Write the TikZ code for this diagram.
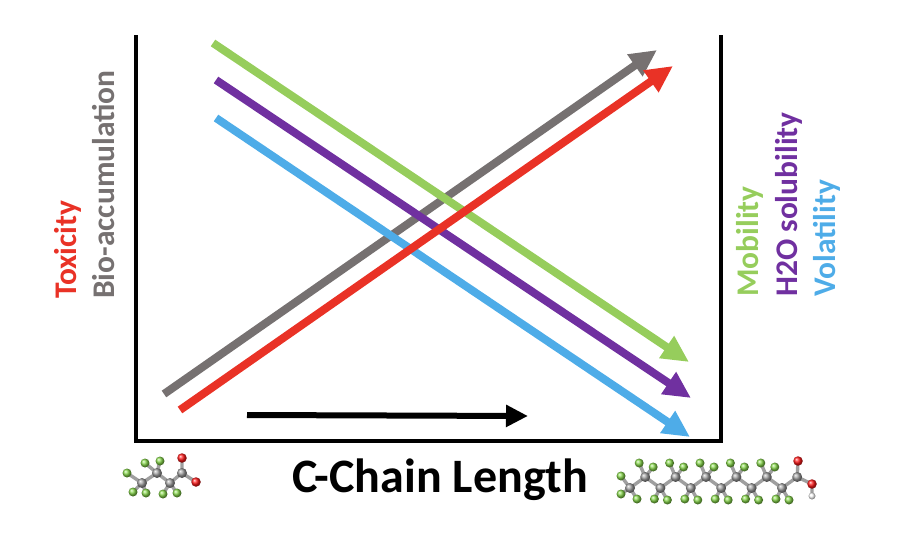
\documentclass[tikz,border=0pt]{standalone}
\usepackage{fontspec}
\setmainfont{Carlito}
\usepackage{xcolor}
\usetikzlibrary{arrows.meta,positioning,shadings,calc}

\definecolor{toxred}{RGB}{233,50,38}
\definecolor{biogray}{RGB}{118,113,113}
\definecolor{mobgreen}{RGB}{150,205,92}
\definecolor{solpurple}{RGB}{112,48,160}
\definecolor{volblue}{RGB}{78,172,232}
\definecolor{fgreen}{RGB}{135,215,75}

\begin{document}
\begin{tikzpicture}[x=1pt, y=-1pt, trend/.style = {line width=8pt,-{Triangle[length=27pt,width=25pt]}}]
		\tikzset{axlabel/.style={rotate=90,anchor=base west,inner sep=0pt,font=\fontsize{31.5}{31.5}\selectfont\bfseries}}
		\tikzset{bond/.style={line width=3.4pt,draw=gray!75}}
		\tikzset{carbon/.style={circle,inner sep=0pt,minimum size=10pt,ball color=gray!75}}
		\tikzset{fluor/.style={circle,inner sep=0pt,minimum size=9pt,ball color=fgreen}}
		\tikzset{oxy/.style={circle,inner sep=0pt,minimum size=9.5pt,ball color=red!90}}
		\tikzset{hyd/.style={circle,inner sep=0pt,minimum size=7pt,ball color=white}}

		\useasboundingbox (0,0) rectangle (898,538);

		% Frame
		\coordinate (tl) at (136,35);
		\coordinate (bl) at (136,441);
		\coordinate (br) at (721,441);
		\coordinate (tr) at (721,35);
		\draw[line width=3.5pt] (tl) -- (bl) -- (br) -- (tr);

		% Trend arrows
		\coordinate (grayS) at (164,394);
		\coordinate (grayE) at (657,50);
		\coordinate (redS) at (180,410);
		\coordinate (redE) at (673,66);
		\coordinate (greenS) at (213,43);
		\coordinate (greenE) at (689,362);
		\coordinate (purpleS) at (216,80);
		\coordinate (purpleE) at (691,398);
		\coordinate (blueS) at (216,118);
		\coordinate (blueE) at (690,437);

		\draw [trend, biogray] (grayS) -- (grayE);
		\draw [trend, mobgreen] (greenS) -- (greenE);
		\draw [trend, solpurple] (purpleS) -- (purpleE);
		\draw [trend, volblue] (blueS) -- (blueE);
		\draw [trend, toxred] (redS) -- (redE);

		% Chain length arrow
		\coordinate (lenS) at (247,415);
		\coordinate (lenE) at (528,416);
		\draw [line width=6pt,-{Triangle[length=22pt,width=21pt]}] (lenS) -- (lenE);

		% Labels
		\node[axlabel, toxred] (tox) at (76,299) {Toxicity};
		\node[axlabel, biogray] (bio) at (114,299) {Bio-accumulation};
		\node[axlabel, mobgreen] (mob) at (758,297) {Mobility};
		\node[axlabel, solpurple] (sol) at (797,297) {H2O solubility};
		\node[axlabel, volblue] (vol) at (835,297) {Volatility};

		\node[anchor=base, inner sep=0pt, font=\fontsize{48}{48}\selectfont\bfseries] (axis) at (440,492) {C-Chain Length};

		% Short molecule
		\coordinate (a1) at (142,483);
		\coordinate (a2) at (157,473);
		\coordinate (a3) at (170,483);
		\coordinate (a4) at (182,473);
		\coordinate (ao1) at (182,458);
		\coordinate (ao2) at (196,482);
		\coordinate (af1) at (127,473);
		\coordinate (af2) at (133,492);
		\coordinate (af3) at (146,493);
		\coordinate (af4) at (145,463);
		\coordinate (af5) at (160,461);
		\coordinate (af6) at (163,494);
		\coordinate (af7) at (177,493);

		\draw [bond] (af1) -- (a1) -- (a2) -- (a3) -- (a4) -- (ao1);
		\draw [bond] (a4) -- (ao2);
		\foreach \f/\c in {af2/a1, af3/a1, af4/a2, af5/a2, af6/a3, af7/a3}
			\draw [bond] (\f) -- (\c);

		\foreach \f in {af1,af2,af3,af4,af5,af6,af7}
			\node[fluor] (F\f) at (\f) {};
		\foreach \c in {a1,a2,a3,a4}
			\node[carbon] (C\c) at (\c) {};
		\node[oxy] (Oao1) at (ao1) {};
		\node[oxy] (Oao2) at (ao2) {};

		% Long molecule
		\foreach \i in {1,...,12} {
			\pgfmathsetmacro{\bx}{630+(\i-1)*15.2}
			\pgfmathsetmacro{\by}{isodd(\i) ? 488 : 477}
			\coordinate (b\i) at (\bx,\by);
		}
		\coordinate (bo1) at (798,461);
		\coordinate (bo2) at (812,484);
		\coordinate (bh) at (812,496);
		\coordinate (bf0a) at (621,476);
		\coordinate (bf0b) at (621,494);
		\coordinate (bf0c) at (637,499);
		\foreach \i in {2,...,11} {
			\ifodd\i
				\coordinate (bfa\i) at ($(b\i)+(-6,11)$);
				\coordinate (bfb\i) at ($(b\i)+(7,12)$);
			\else
				\coordinate (bfa\i) at ($(b\i)+(-6,-14)$);
				\coordinate (bfb\i) at ($(b\i)+(8,-10)$);
			\fi
		}

		\draw [bond] (b1) \foreach \i in {2,...,12} {-- (b\i)};
		\draw [bond] (b12) -- (bo1);
		\draw [bond] (b12) -- (bo2) -- (bh);
		\foreach \f in {bf0a,bf0b,bf0c}
			\draw [bond] (b1) -- (\f);
		\foreach \i in {2,...,11} {
			\draw [bond] (b\i) -- (bfa\i);
			\draw [bond] (b\i) -- (bfb\i);
		}

		\foreach \f in {bf0a,bf0b,bf0c}
			\node[fluor] (F\f) at (\f) {};
		\foreach \i in {2,...,11} {
			\node[fluor] (Fa\i) at (bfa\i) {};
			\node[fluor] (Fb\i) at (bfb\i) {};
		}
		\foreach \i in {1,...,12}
			\node[carbon] (Cb\i) at (b\i) {};
		\node[oxy] (Obo1) at (bo1) {};
		\node[oxy] (Obo2) at (bo2) {};
		\node[hyd] (Hbh) at (bh) {};

	\end{tikzpicture}
\end{document}
